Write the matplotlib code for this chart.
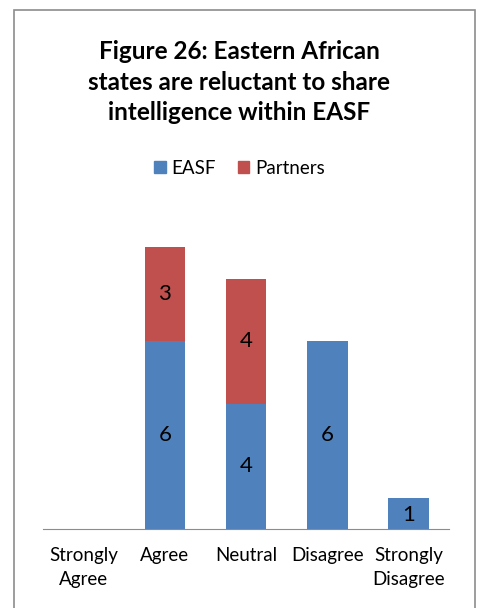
import matplotlib.pyplot as plt
from matplotlib.patches import Rectangle, Patch

# data
categories = ['Strongly\nAgree', 'Agree', 'Neutral', 'Disagree', 'Strongly\nDisagree']
easf = [0, 6, 4, 6, 1]
partners = [0, 3, 4, 0, 0]

blue = '#4f81bd'
red = '#c0504d'

plt.rcParams['font.family'] = ['Lato', 'DejaVu Sans']

fig = plt.figure(figsize=(4.79, 6.08), dpi=100)
W, H = 479, 608
ax = fig.add_axes([43 / W, (H - 529) / H, (449 - 43) / W, 313 / H])

x = list(range(len(categories)))
ax.bar(x, easf, width=0.5, color=blue)
ax.bar(x, partners, width=0.5, bottom=easf, color=red)

# value labels
for i in x:
    if easf[i] > 0:
        ax.text(i, easf[i] / 2 if easf[i] > 1 else 0.45, str(easf[i]),
                ha='center', va='center', fontsize=16)
    if partners[i] > 0:
        ax.text(i, easf[i] + partners[i] / 2, str(partners[i]),
                ha='center', va='center', fontsize=16)

ax.set_xlim(-0.5, len(categories) - 0.5)
ax.set_ylim(0, 10)
ax.set_xticks(x)
ax.set_xticklabels(categories, fontsize=13.5, linespacing=1.5)
ax.tick_params(axis='x', length=0, pad=13)
ax.set_yticks([])
for s in ['top', 'right', 'left']:
    ax.spines[s].set_visible(False)
ax.spines['bottom'].set_color('#8c8c8c')

fig.text(0.5, 1 - 82 / H, 'Figure 26: Eastern African\nstates are reluctant to share\nintelligence within EASF',
         ha='center', va='center', fontsize=17.5, fontweight='bold', linespacing=1.42)

handles = [Patch(color=blue, label='EASF'), Patch(color=red, label='Partners')]
fig.legend(handles=handles, loc='center', bbox_to_anchor=(0.5, 1 - 168 / H), ncol=2,
           frameon=False, fontsize=13.5, handlelength=0.6, handleheight=0.6,
           handletextpad=0.3, columnspacing=1.2)

fig.patches.append(Rectangle((14 / W, -0.01), (475 - 14) / W, 1 - 9.5 / H + 0.01,
                             transform=fig.transFigure, fill=False,
                             edgecolor='#8c8c8c', linewidth=1.2))

fig.savefig('out.png', dpi=100)
